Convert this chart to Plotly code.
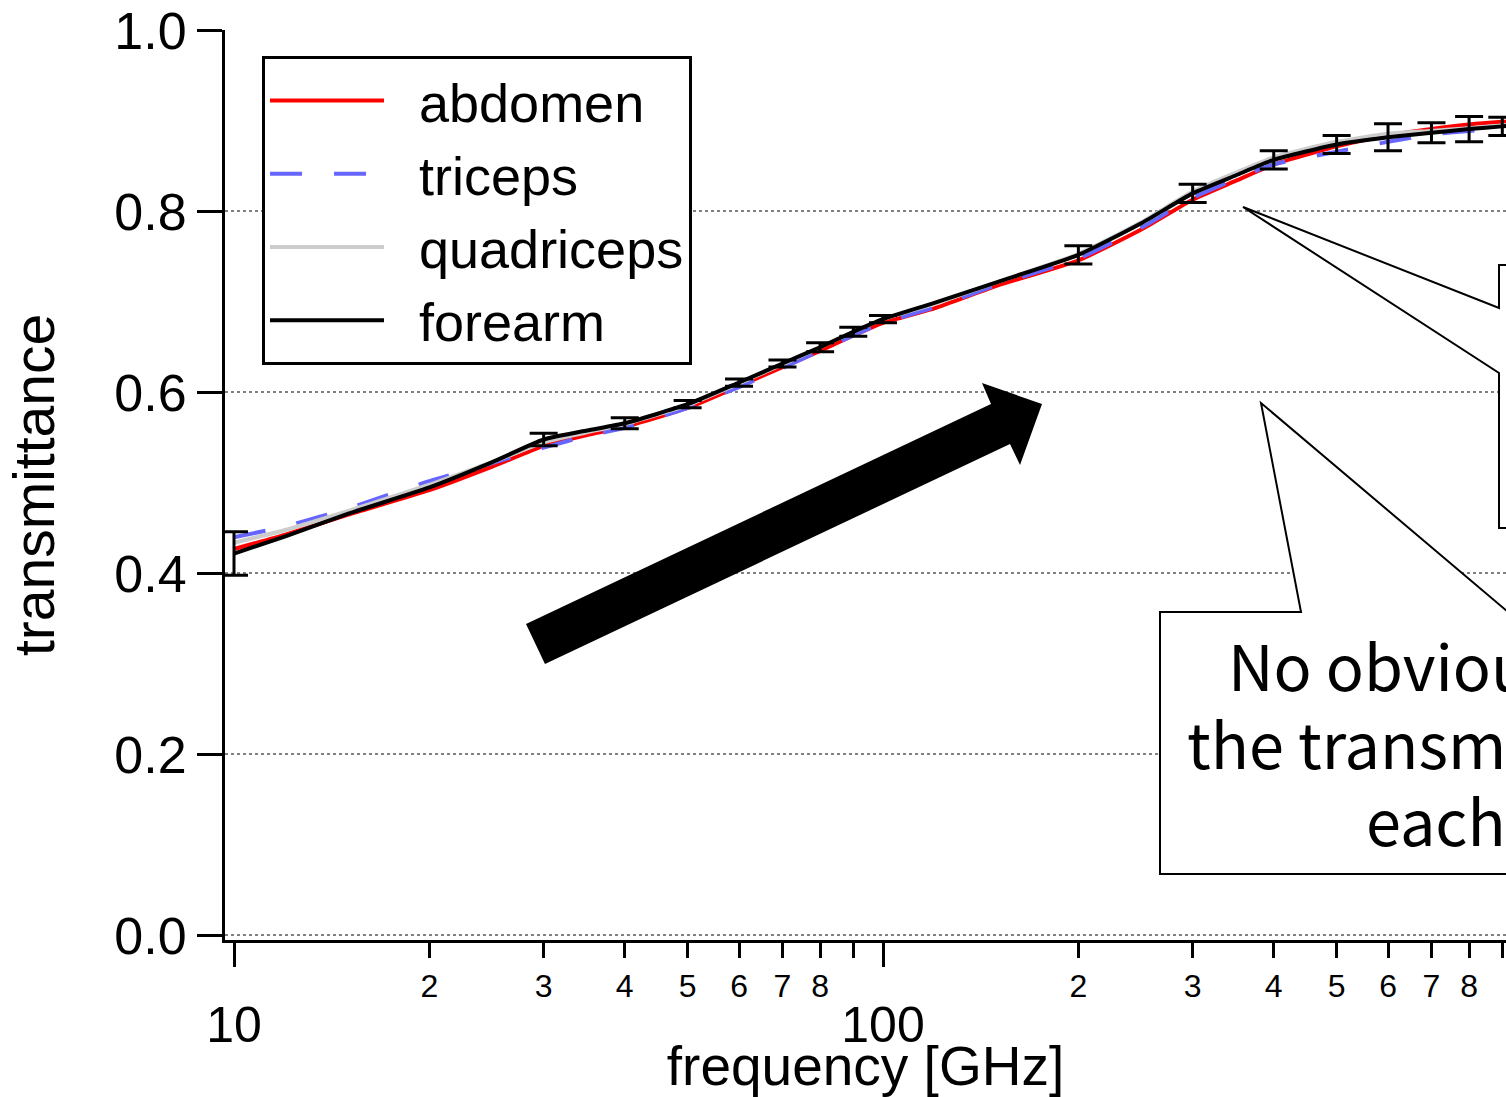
import plotly.graph_objects as go

# ---------------- data ----------------
freq = [10, 12, 15, 20, 25, 30, 35, 40, 50, 60, 70, 80, 90, 100, 120, 150,
        200, 250, 300, 350, 400, 500, 600, 700, 800, 900, 950]
abdomen = [0.427, 0.443, 0.465, 0.492, 0.518, 0.541, 0.553, 0.562, 0.583, 0.607,
           0.628, 0.646, 0.663, 0.677, 0.693, 0.718, 0.746, 0.780, 0.813, 0.834,
           0.852, 0.872, 0.884, 0.891, 0.896, 0.899, 0.900]
triceps = [0.440, 0.452, 0.472, 0.502, 0.522, 0.539, 0.552, 0.561, 0.583, 0.606,
           0.627, 0.646, 0.663, 0.677, 0.694, 0.719, 0.748, 0.782, 0.815, 0.836,
           0.852, 0.866, 0.877, 0.885, 0.889, 0.892, 0.894]
quadriceps = [0.434, 0.448, 0.469, 0.498, 0.523, 0.545, 0.556, 0.565, 0.586, 0.610,
              0.631, 0.650, 0.667, 0.681, 0.698, 0.722, 0.753, 0.788, 0.822, 0.843,
              0.860, 0.877, 0.886, 0.889, 0.892, 0.895, 0.896]
forearm = [0.422, 0.441, 0.466, 0.495, 0.523, 0.548, 0.558, 0.566, 0.587, 0.611,
           0.632, 0.650, 0.667, 0.681, 0.699, 0.722, 0.752, 0.787, 0.820, 0.840,
           0.857, 0.874, 0.882, 0.887, 0.891, 0.894, 0.896]
err_freq = [10, 30, 40, 50, 60, 70, 80, 90, 100, 200, 300, 400, 500, 600, 700, 800, 900]
forearm_err = [0.024, 0.007, 0.006, 0.004, 0.004, 0.004, 0.005, 0.005, 0.004,
               0.010, 0.010, 0.010, 0.010, 0.015, 0.011, 0.014, 0.010]

minor_ticks = [20, 30, 40, 50, 60, 70, 80, 90, 200, 300, 400, 500, 600, 700, 800, 900]
minor_labels = ["2", "3", "4", "5", "6", "7", "8", "", "2", "3", "4", "5", "6", "7", "8", ""]
major_ticks = [10, 100]
major_labels = ["10", "100"]
y_ticks = [0.0, 0.2, 0.4, 0.6, 0.8, 1.0]
y_labels = ["0.0", "0.2", "0.4", "0.6", "0.8", "1.0"]

series_names = ["abdomen", "triceps", "quadriceps", "forearm"]
series_colors = ["#ff0000", "#6666ff", "#cccccc", "#000000"]
series_dash = ["solid", "32px,32px", "solid", "solid"]

# ---------------- layout geometry ----------------
W, H = 1506, 1097
L, R, T, B = 225, 0, 30, 157
PW, PH = W - L - R, H - T - B


def px(X):
    return (X - L) / PW


def py(Y):
    return (H - B - Y) / PH


def path(points):
    return "M " + " L ".join(f"{px(a):.5f},{py(b):.5f}" for a, b in points) + " Z"


fig = go.Figure()
series_vals = [abdomen, triceps, quadriceps, forearm]
NB = "\u00a0\u00a0"
for name, vals, col, dash in zip(series_names, series_vals, series_colors, series_dash):
    fig.add_trace(go.Scatter(
        x=freq, y=vals, mode="lines", name=NB + name,
        line=dict(color=col, width=4, dash=dash, shape="spline", smoothing=0.5),
        legendgroup=name,
    ))

err_y_vals = [forearm[freq.index(f)] for f in err_freq]
fig.add_trace(go.Scatter(
    x=err_freq, y=err_y_vals, mode="markers", xaxis="x2",
    marker=dict(size=1, color="rgba(0,0,0,0)"),
    error_y=dict(type="data", array=forearm_err, color="black", thickness=3, width=14),
    showlegend=False, hoverinfo="skip",
))

FONT = "Liberation Sans"
xr = [0.98613, 2.95994]

fig.update_layout(
    width=W, height=H,
    margin=dict(l=L, r=R, t=T, b=B, pad=0, autoexpand=False),
    paper_bgcolor="white", plot_bgcolor="white",
    font=dict(family=FONT, color="black"),
    showlegend=True,
    legend=dict(
        x=px(262), y=py(56), xanchor="left", yanchor="top",
        bgcolor="white", bordercolor="black", borderwidth=3,
        font=dict(family=FONT, size=54, color="black"),
        itemwidth=114, tracegroupgap=0,
    ),
    xaxis=dict(
        type="log", range=xr, domain=[0, 1], automargin=False,
        showgrid=False, zeroline=False,
        showline=True, linecolor="black", linewidth=3,
        tickmode="array", tickvals=minor_ticks, ticktext=minor_labels,
        ticks="outside", ticklen=15, tickwidth=3, tickcolor="black",
        tickfont=dict(family=FONT, size=32, color="black"),
        ticklabelstandoff=1,
    ),
    xaxis2=dict(
        type="log", range=xr, overlaying="x", anchor="y", side="bottom", automargin=False,
        showgrid=False, zeroline=False, showline=False,
        tickmode="array", tickvals=major_ticks, ticktext=major_labels,
        ticks="outside", ticklen=26, tickwidth=3, tickcolor="black",
        tickfont=dict(family=FONT, size=50, color="black"),
        ticklabelstandoff=15,
        title=dict(text="frequency [GHz]", font=dict(family=FONT, size=55, color="black"),
                   standoff=3),
    ),
    yaxis=dict(
        range=[-0.005, 1.0005], automargin=False,
        showgrid=True, gridcolor="#808080", gridwidth=2, griddash="dot",
        zeroline=False,
        showline=True, linecolor="black", linewidth=3,
        tickmode="array", tickvals=y_ticks, ticktext=y_labels,
        ticks="outside", ticklen=25, tickwidth=3, tickcolor="black",
        tickfont=dict(family=FONT, size=52, color="black"),
        ticklabelstandoff=0,
        title=dict(text="transmittance", font=dict(family=FONT, size=57, color="black"),
                   standoff=42),
    ),
)

# big arrow
arrow_pts = [(526, 624), (991, 404), (982, 383), (1042, 404), (1020, 465), (1010, 444), (545, 664)]
# callouts
callout_bottom = [(1160, 612), (1301, 612), (1261, 403), (1508, 612), (1620, 612),
                  (1620, 874), (1160, 874)]
callout_top = [(1499, 265), (1499, 308), (1243, 207), (1499, 373), (1499, 528),
               (1620, 528), (1620, 265)]

fig.update_layout(shapes=[
    dict(type="path", xref="paper", yref="paper", path=path(arrow_pts),
         fillcolor="black", line=dict(width=0), layer="above"),
    dict(type="path", xref="paper", yref="paper", path=path(callout_bottom),
         fillcolor="white", line=dict(color="black", width=2), layer="above"),
    dict(type="path", xref="paper", yref="paper", path=path(callout_top),
         fillcolor="white", line=dict(color="black", width=2), layer="above"),
])

CJK = "Noto Sans CJK JP"
note_lines = [("No obvious difference in", 1226, 663),
              ("the transmittance among", 1185, 741),
              ("each site", 1364, 818)]
annotations = []
for txt, X, Y in note_lines:
    annotations.append(dict(
        text=txt, xref="paper", yref="paper", x=px(X), y=py(Y),
        xanchor="left", yanchor="middle", showarrow=False,
        font=dict(family=CJK, size=63, color="black"),
    ))
fig.update_layout(annotations=annotations)

fig.write_html("out.html")
